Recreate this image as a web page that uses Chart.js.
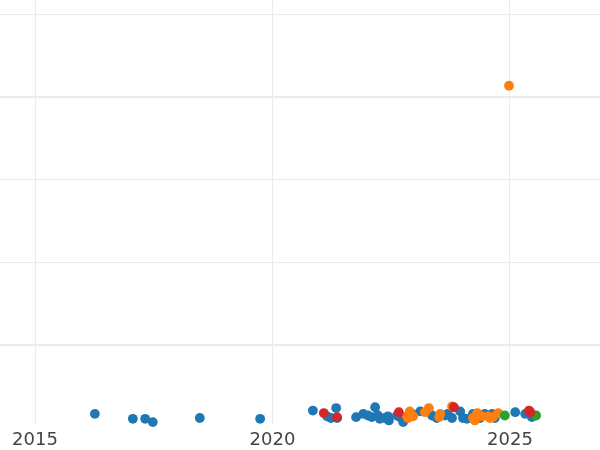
<!DOCTYPE html>
<html>
<head>
<meta charset="utf-8">
<script src="https://cdn.jsdelivr.net/npm/chart.js@4"></script>
<style>
  html, body { margin: 0; padding: 0; background: #fff; }
  #wrap { width: 600px; height: 450px; }
</style>
</head>
<body>
<div id="wrap"><canvas id="scatter_chart"></canvas></div>
<script>
// tick labels
var xTicks = [2015, 2020, 2025];
var yTicks = [0, 100, 200, 300, 400];

// series values (decimal year, value)
var blueX = [2016.26, 2017.06, 2017.32, 2017.48, 2018.47, 2019.74, 2020.85, 2021.15, 2021.23, 2021.34,
  2021.36, 2021.76, 2021.91, 2022.01, 2022.09, 2022.16, 2022.22, 2022.26, 2022.37, 2022.45,
  2022.43, 2022.68, 2022.75, 2022.62, 2023.11, 2023.36, 2023.46, 2023.69, 2023.78, 2023.95,
  2024.01, 2024.09, 2024.22, 2024.47, 2024.62, 2024.37, 2024.68, 2025.11, 2025.32, 2025.46,
  2022.94, 2023.63];
var blueY = [-84, -90, -90, -94, -89, -90, -80, -87, -89, -77,
  -89, -88, -84, -86, -88, -76, -86, -90, -89, -92,
  -87, -88, -94, -86, -81, -86, -89, -84, -89, -81,
  -89, -90, -84, -84, -84, -89, -89, -82, -84, -88,
  -84, -86];

var orangeX = [2024.98, 2022.83, 2022.89, 2022.96, 2022.85, 2023.21, 2023.29, 2023.53, 2023.51, 2023.78,
  2024.22, 2024.31, 2024.41, 2024.54, 2024.64, 2024.75, 2024.26, 2024.58];
var orangeY = [314, -87, -81, -87, -89, -82, -77, -84, -88, -75,
  -89, -83, -87, -87, -88, -83, -92, -89];

var greenX = [2024.89, 2025.55];
var greenY = [-86, -86];

var redX = [2021.08, 2021.36, 2022.66, 2023.82, 2025.40, 2025.43];
var redY = [-83, -88, -82, -76, -80, -82];

function toPoints(xs, ys) {
  var pts = [];
  for (var i = 0; i < xs.length; i++) {
    pts.push({ x: xs[i], y: ys[i] });
  }
  return pts;
}

function makeSet(label, xs, ys, color, order) {
  return {
    label: label,
    data: toPoints(xs, ys),
    backgroundColor: color,
    pointBackgroundColor: color,
    pointBorderWidth: 0,
    pointRadius: 4.9,
    pointHoverRadius: 4.9,
    clip: false,
    order: order,
  };
}

var gridColor = "#ebebeb";

var ctx = document.getElementById("scatter_chart");
var scatter_chart = new Chart(ctx, {
  type: "scatter",
  data: {
    datasets: [
      makeSet("A", blueX, blueY, "#1f77b4", 4),
      makeSet("B", orangeX, orangeY, "#ff7f0e", 3),
      makeSet("C", greenX, greenY, "#2ca02c", 2),
      makeSet("D", redX, redY, "#d62728", 1),
    ],
  },
  options: {
    responsive: true,
    maintainAspectRatio: false,
    animation: false,
    layout: { padding: { top: 0, left: 0, right: 0, bottom: -5 }, autoPadding: false },
    plugins: {
      legend: { display: false },
      tooltip: { enabled: false },
    },
    scales: {
      x: {
        type: "linear",
        min: 2014.263,
        max: 2026.895,
        afterBuildTicks: function (axis) {
          axis.ticks = xTicks.map(function (v) { return { value: v }; });
        },
        border: { display: false },
        grid: { color: gridColor, lineWidth: 1, drawTicks: false },
        ticks: {
          padding: 4,
          maxRotation: 0,
          color: "#444",
          font: { family: "DejaVu Sans", size: 18 },
          callback: function (v) { return String(v); },
        },
      },
      y: {
        min: -98,
        max: 418,
        afterBuildTicks: function (axis) {
          axis.ticks = yTicks.map(function (v) { return { value: v }; });
        },
        border: { display: false },
        grid: {
          color: gridColor,
          drawTicks: false,
          lineWidth: function (c) {
            return c.tick && c.tick.value % 300 === 0 ? 2 : 1;
          },
        },
        ticks: { display: false },
      },
    },
  },
});
</script>
</body>
</html>
